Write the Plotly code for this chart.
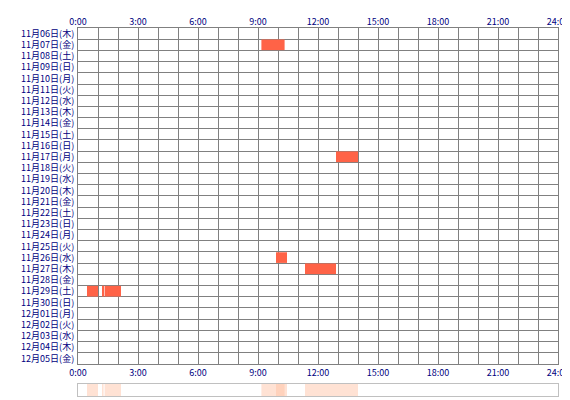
import plotly.graph_objects as go

days = ["11月06日(木)", "11月07日(金)", "11月08日(土)", "11月09日(日)", "11月10日(月)",
        "11月11日(火)", "11月12日(水)", "11月13日(木)", "11月14日(金)", "11月15日(土)",
        "11月16日(日)", "11月17日(月)", "11月18日(火)", "11月19日(水)", "11月20日(木)",
        "11月21日(金)", "11月22日(土)", "11月23日(日)", "11月24日(月)", "11月25日(火)",
        "11月26日(水)", "11月27日(木)", "11月28日(金)", "11月29日(土)", "11月30日(日)",
        "12月01日(月)", "12月02日(火)", "12月03日(水)", "12月04日(木)", "12月05日(金)"]

# sessions: day index, start hour, end hour
sess_day = [1, 11, 20, 21, 23, 23, 23]
sess_start = [9.17, 12.9, 9.9, 11.35, 0.45, 1.2, 1.33]
sess_end = [10.33, 14.0, 10.45, 12.9, 1.0, 1.28, 2.15]

hour_ticks = [0, 3, 6, 9, 12, 15, 18, 21, 24]
hour_labels = ["%d:00" % h for h in hour_ticks]

dur = [e - s for s, e in zip(sess_start, sess_end)]
font = dict(family="Noto Sans CJK JP", size=9, color="#000080")

fig = go.Figure()
fig.add_trace(go.Bar(orientation="h", base=sess_start, x=dur,
                     y=[d + 0.5 for d in sess_day], width=0.95,
                     marker=dict(color="#ff6347", line_width=0),
                     xaxis="x", yaxis="y", hoverinfo="skip"))
fig.add_trace(go.Bar(orientation="h", base=sess_start, x=dur,
                     y=[0.5] * len(dur), width=1,
                     marker=dict(color="rgba(255,190,160,0.45)", line_width=0),
                     xaxis="x3", yaxis="y2", hoverinfo="skip"))
# invisible trace to activate top axis
fig.add_trace(go.Scatter(x=[0, 24], y=[0, 0], mode="markers", marker_opacity=0,
                         xaxis="x2", yaxis="y", hoverinfo="skip"))

grid = dict(showgrid=True, gridcolor="#808080", gridwidth=1)
fig.update_layout(
    width=570, height=400, showlegend=False, barmode="overlay",
    plot_bgcolor="white", paper_bgcolor="white",
    margin=dict(l=70, r=20, t=20, b=12), font=font,
    xaxis=dict(range=[0, 24], tickvals=hour_ticks, ticktext=hour_labels, **grid,
               minor=dict(dtick=1, tick0=0, **grid), layer="above traces",
               showline=True, mirror=True, linecolor="#808080", zeroline=False,
               anchor="y", ticklen=0, tickfont=font, automargin=False),
    xaxis2=dict(range=[0, 24], tickvals=hour_ticks, ticktext=hour_labels,
                overlaying="x", side="top", anchor="y", showgrid=False,
                ticklen=0, tickfont=font, zeroline=False, automargin=False),
    yaxis=dict(range=[30, 0], domain=[0.087, 1], tickvals=[i + 0.5 for i in range(30)],
               ticktext=days, showgrid=False, minor=dict(dtick=1, tick0=0, **grid),
               layer="above traces", showline=True, mirror=True, linecolor="#808080",
               zeroline=False, ticklen=0, ticklabelstandoff=1, tickfont=font,
               automargin=False),
    xaxis3=dict(range=[0, 24], anchor="y2", showticklabels=False, showgrid=False,
                zeroline=False, showline=True, mirror=True, linecolor="#c0c0c0",
                automargin=False),
    yaxis2=dict(range=[0, 1], domain=[0, 0.033], anchor="x3", showticklabels=False,
                showgrid=False, zeroline=False, showline=True, mirror=True,
                linecolor="#c0c0c0", automargin=False),
)

fig.write_html("out.html")
